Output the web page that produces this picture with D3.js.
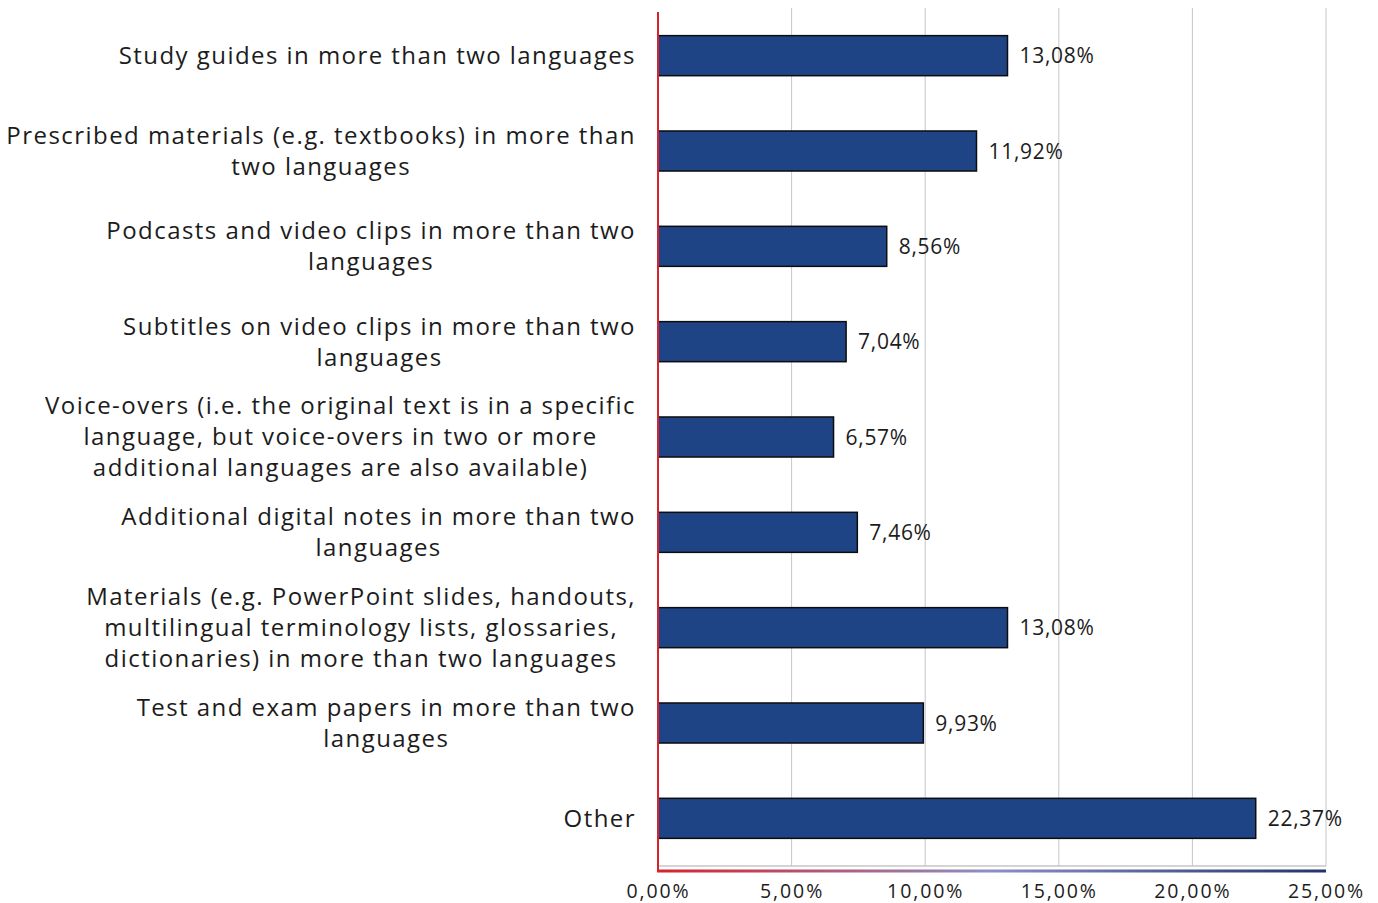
<!DOCTYPE html>
<html>
<head>
<meta charset="utf-8">
<script src="https://cdn.jsdelivr.net/npm/d3@7"></script>
<style>
  html, body { margin: 0; padding: 0; background: #ffffff; }
  svg { display: block; }
  text { font-family: "Open Sans", "Noto Sans", sans-serif; font-weight: 380; fill: #1c1c1c; }
</style>
</head>
<body>
<svg id="chart" width="1378" height="903"></svg>
<script>
// Survey categories (each entry is the list of label lines)
const categories = [
  ["Study guides in more than two languages"],
  ["Prescribed materials (e.g. textbooks) in more than", "two languages"],
  ["Podcasts and video clips in more than two", "languages"],
  ["Subtitles on video clips in more than two", "languages"],
  ["Voice-overs (i.e. the original text is in a specific", "language, but voice-overs in two or more", "additional languages are also available)"],
  ["Additional digital notes in more than two", "languages"],
  ["Materials (e.g. PowerPoint slides, handouts,", "multilingual terminology lists, glossaries,", "dictionaries) in more than two languages"],
  ["Test and exam papers in more than two", "languages"],
  ["Other"]
];
// Share of respondents (%)
const values = [13.08, 11.92, 8.56, 7.04, 6.57, 7.46, 13.08, 9.93, 22.37];
const xTicks = [0, 5, 10, 15, 20, 25];

const fmt = v => v.toFixed(2).replace(".", ",") + "%";

const svg = d3.select("#chart");
const margin = { left: 658, right: 52, top: 8, bottom: 37 };
const W = 1378, H = 903;
const plotBottom = H - margin.bottom; // 866

const x = d3.scaleLinear().domain([0, 25]).range([margin.left, W - margin.right]);
const y = d3.scaleBand().domain(d3.range(categories.length))
  .range([margin.top, plotBottom]).paddingInner(0.58).paddingOuter(0.29);

// gradient for the bottom axis rule
const defs = svg.append("defs");
const grad = defs.append("linearGradient").attr("id", "axisGrad")
  .attr("gradientUnits", "userSpaceOnUse")
  .attr("x1", x(0)).attr("x2", x(25)).attr("y1", 0).attr("y2", 0);
grad.append("stop").attr("offset", "0%").attr("stop-color", "#d8232d");
grad.append("stop").attr("offset", "50%").attr("stop-color", "#8b90c6");
grad.append("stop").attr("offset", "100%").attr("stop-color", "#23346a");

// vertical gridlines
svg.append("g").selectAll("line").data(xTicks.slice(1)).join("line")
  .attr("x1", d => x(d)).attr("x2", d => x(d))
  .attr("y1", margin.top).attr("y2", plotBottom)
  .attr("stroke", "#c6c6c6").attr("stroke-width", 1);

// grey baseline
svg.append("line")
  .attr("x1", x(0)).attr("x2", x(25))
  .attr("y1", plotBottom).attr("y2", plotBottom)
  .attr("stroke", "#c6c6c6").attr("stroke-width", 1.5);

// bars
svg.append("g").selectAll("rect").data(values).join("rect")
  .attr("x", x(0))
  .attr("y", (d, i) => y(i))
  .attr("width", d => x(d) - x(0))
  .attr("height", y.bandwidth())
  .attr("fill", "#1f4486")
  .attr("stroke", "#0d0d0d")
  .attr("stroke-width", 1.5);

// value labels
svg.append("g").selectAll("text").data(values).join("text")
  .attr("x", d => x(d) + 12)
  .attr("y", (d, i) => y(i) + y.bandwidth() / 2)
  .attr("dy", "0.36em")
  .attr("font-size", 21)
  .attr("font-weight", 300)
  .attr("letter-spacing", 0.7)
  .text(d => fmt(d));

// red value axis rule and gradient bottom rule
svg.append("line")
  .attr("x1", x(0)).attr("x2", x(0))
  .attr("y1", 12).attr("y2", plotBottom + 5)
  .attr("stroke", "#d8232d").attr("stroke-width", 2);
svg.append("rect")
  .attr("x", x(0) - 1).attr("y", plotBottom + 3.5)
  .attr("width", x(25) - x(0) + 1).attr("height", 3)
  .attr("fill", "url(#axisGrad)");

// x tick labels
const xAxis = d3.axisBottom(x).tickValues(xTicks).tickFormat(fmt).tickSize(0).tickPadding(0);
const gx = svg.append("g").attr("transform", `translate(0,${plotBottom + 19})`).call(xAxis);
gx.select(".domain").remove();
gx.selectAll("text").attr("font-size", 19.5).attr("fill", "#1c1c1c")
  .attr("font-family", null).attr("font-weight", 300)
  .attr("letter-spacing", 1.9).attr("dy", "0.68em");

// category labels: lines centred within a right-aligned block
const labelRight = 636, lineH = 31;
const gl = svg.append("g").attr("font-size", 24);
categories.forEach((lines, i) => {
  const cy = y(i) + y.bandwidth() / 2;
  const g = gl.append("g");
  const texts = lines.map((s, k) => g.append("text")
    .attr("y", cy + (k - (lines.length - 1) / 2) * lineH)
    .attr("dy", "0.35em")
    .attr("text-anchor", "middle")
    .attr("letter-spacing", 1.45)
    .text(s));
  const maxW = d3.max(texts, t => t.node().getComputedTextLength());
  texts.forEach(t => t.attr("x", labelRight - maxW / 2));
});
</script>
</body>
</html>
